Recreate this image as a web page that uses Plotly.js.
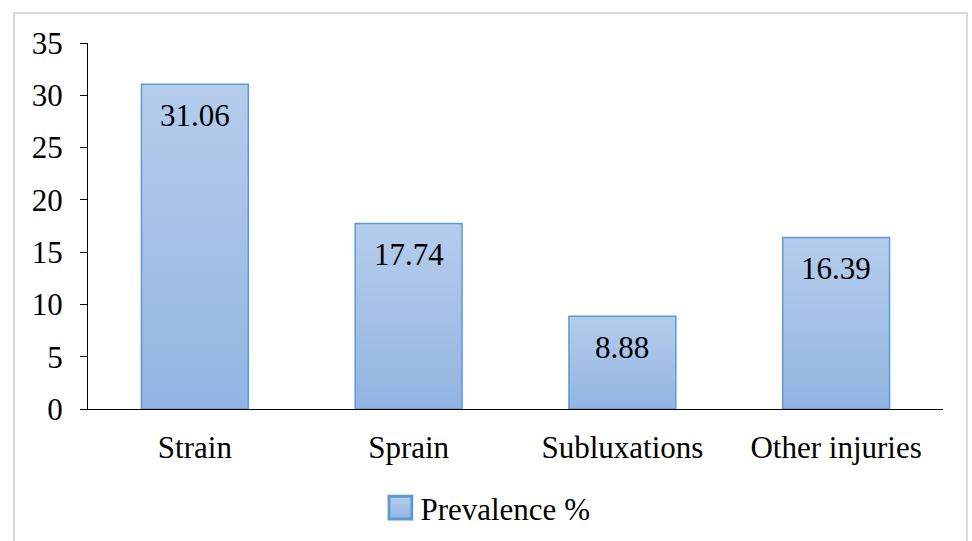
<!DOCTYPE html>
<html>
<head>
<meta charset="utf-8">
<script src="https://cdn.plot.ly/plotly-3.0.1.min.js"></script>
<style>
  html, body { margin: 0; padding: 0; background: #fff; }
  #wrap { position: relative; width: 972px; height: 541px; }
  #chart { width: 972px; height: 541px; }
  #frame { position: absolute; left: 13px; top: 12px; width: 955px; height: 540px;
           border: 2px solid #d9d9d9; pointer-events: none; box-sizing: border-box; }
</style>
</head>
<body>
<div id="wrap">
  <div id="chart"></div>
  <div id="frame"></div>
</div>
<script>
const categories = ["Strain", "Sprain", "Subluxations", "Other injuries"];
const prevalence = [31.06, 17.74, 8.88, 16.39];
const labels = ["31.06", "17.74", "8.88", "16.39"];
const seriesName = "Prevalence %";
const yTicks = [0, 5, 10, 15, 20, 25, 30, 35];

function mkFont() { return { family: "Liberation Serif", size: 31, color: "#000" }; }

const trace = {
  type: "bar",
  x: categories,
  y: prevalence,
  name: seriesName,
  marker: { color: "#a5c2e7", line: { color: "#5b9bd5", width: 1.5 } },
  hoverinfo: "none"
};

const annotations = categories.map((c, i) => ({
  x: c, y: prevalence[i], xref: "x", yref: "y",
  text: labels[i], showarrow: false, yanchor: "middle", yshift: -31,
  font: mkFont()
}));

const layout = {
  width: 972, height: 541,
  margin: { l: 88, r: 29, t: 43, b: 132, autoexpand: false },
  paper_bgcolor: "#fff", plot_bgcolor: "#fff",
  font: mkFont(),
  bargap: 0.5,
  showlegend: true,
  legend: { orientation: "h", x: 0.342, xanchor: "left", yref: "container", y: 0.061, yanchor: "middle", font: mkFont() },
  xaxis: {
    showline: true, linecolor: "#000", linewidth: 1,
    ticks: "", showgrid: false, tickfont: mkFont(), ticklabelstandoff: 11
  },
  yaxis: {
    range: [0, 35], tickvals: yTicks, showgrid: false, zeroline: false,
    showline: true, linecolor: "#000", linewidth: 1,
    ticks: "outside", ticklen: 7, tickcolor: "#000", tickfont: mkFont(), ticklabelstandoff: 11
  },
  annotations: annotations
};

Plotly.newPlot("chart", [trace], layout, { staticPlot: true }).then(gd => {
  const svg = gd.querySelector("svg.main-svg");
  const ns = "http://www.w3.org/2000/svg";
  let defs = svg.querySelector("defs");
  const grad = document.createElementNS(ns, "linearGradient");
  grad.setAttribute("id", "barGrad");
  grad.setAttribute("x1", "0"); grad.setAttribute("y1", "0");
  grad.setAttribute("x2", "0"); grad.setAttribute("y2", "1");
  [["0", "#b5cdec"], ["1", "#92b4e1"]].forEach(([o, c]) => {
    const s = document.createElementNS(ns, "stop");
    s.setAttribute("offset", o); s.setAttribute("stop-color", c);
    grad.appendChild(s);
  });
  defs.appendChild(grad);
  gd.querySelectorAll(".bars .point path").forEach(p => {
    p.style.fill = "url(#barGrad)";
  });
  gd.querySelectorAll(".legend .legendpoints path").forEach(p => {
    p.style.fill = "url(#barGrad)";
    const t = p.getAttribute("transform") || "";
    p.setAttribute("transform", t + " scale(1.9)");
  });
});
</script>
</body>
</html>
